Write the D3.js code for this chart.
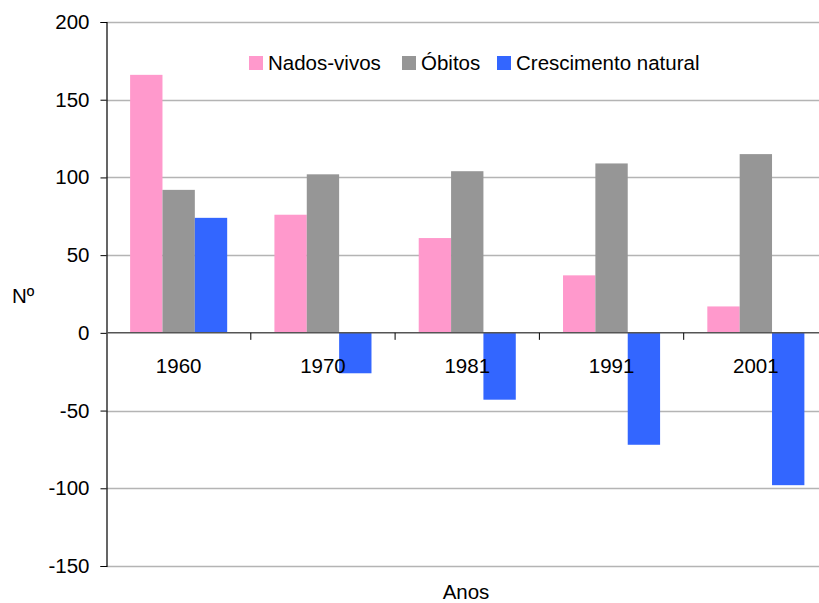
<!DOCTYPE html>
<html>
<head>
<meta charset="utf-8">
<script src="https://cdn.jsdelivr.net/npm/d3@7"></script>
<style>
  body { margin: 0; background: #fff; }
  svg { display: block; font-family: "Liberation Sans", Arial, sans-serif; }
</style>
</head>
<body>
<div id="chart"></div>
<script>
const years = ['1960', '1970', '1981', '1991', '2001'];
const nadosVivos = [166, 76, 61, 37, 17];
const obitos = [92, 102, 104, 109, 115];
const crescimento = [74, -26, -43, -72, -98];
const seriesNames = ['Nados-vivos', 'Óbitos', 'Crescimento natural'];
const seriesColors = ['#FF99CC', '#969696', '#3366FF'];
const yTicks = [-150, -100, -50, 0, 50, 100, 150, 200];

const width = 819;
const height = 603;
const margin = { top: 22, left: 106.5, bottom: 37, right: -9 };
const fontSize = 20.5;

const svg = d3.select('#chart').append('svg')
    .attr('width', width)
    .attr('height', height);

const x = d3.scaleBand()
    .domain(years)
    .range([margin.left, width - margin.right]);

const inner = d3.scaleBand()
    .domain(d3.range(3))
    .range([0, x.bandwidth()])
    .paddingOuter(0.73)
    .paddingInner(0);

const y = d3.scaleLinear()
    .domain([-150, 200])
    .range([height - margin.bottom, margin.top]);

// gridlines
svg.append('g')
  .selectAll('line')
  .data(yTicks.filter(d => d !== 0))
  .join('line')
    .attr('x1', margin.left)
    .attr('x2', width)
    .attr('y1', d => Math.round(y(d)) + 0.5)
    .attr('y2', d => Math.round(y(d)) + 0.5)
    .attr('stroke', '#b4b4b4')
    .attr('stroke-width', 1.5);

// bars
const allSeries = [nadosVivos, obitos, crescimento];
allSeries.forEach((vals, si) => {
  svg.append('g')
    .selectAll('rect')
    .data(vals)
    .join('rect')
      .attr('x', (d, i) => x(years[i]) + inner(si))
      .attr('width', inner.bandwidth())
      .attr('y', d => y(Math.max(0, d)))
      .attr('height', d => Math.abs(y(d) - y(0)))
      .attr('fill', seriesColors[si]);
});

// y axis
const yAxis = svg.append('g')
    .attr('transform', `translate(${margin.left},0)`)
    .call(d3.axisLeft(y).tickValues(yTicks).tickFormat(d => String(d)).tickSize(6).tickPadding(11));
yAxis.select('.domain').attr('stroke', '#000').attr('stroke-width', 1.2);
yAxis.selectAll('.tick line').attr('stroke', '#000');
yAxis.selectAll('.tick text')
    .attr('font-size', fontSize)
    .attr('font-family', '"Liberation Sans", Arial, sans-serif')
    .attr('fill', '#000');

// zero line with category ticks
svg.append('line')
    .attr('x1', margin.left)
    .attr('x2', width)
    .attr('y1', y(0))
    .attr('y2', y(0))
    .attr('stroke', '#555')
    .attr('stroke-width', 1.5);

svg.append('g')
  .selectAll('line')
  .data(years.slice(1))
  .join('line')
    .attr('x1', d => x(d))
    .attr('x2', d => x(d))
    .attr('y1', y(0))
    .attr('y2', y(0) + 7)
    .attr('stroke', '#000');

svg.append('g')
  .selectAll('text')
  .data(years)
  .join('text')
    .attr('x', d => x(d) + x.bandwidth() / 2)
    .attr('y', y(0) + 40)
    .attr('text-anchor', 'middle')
    .attr('font-size', fontSize)
    .text(d => d);

// axis titles
svg.append('text')
    .attr('x', 12)
    .attr('y', 303)
    .attr('font-size', fontSize)
    .text('Nº');

svg.append('text')
    .attr('x', 466)
    .attr('y', 599)
    .attr('text-anchor', 'middle')
    .attr('font-size', fontSize)
    .text('Anos');

// legend
const legendX = [249, 402, 497];
const legend = svg.append('g');
seriesNames.forEach((name, i) => {
  legend.append('rect')
      .attr('x', legendX[i])
      .attr('y', 56)
      .attr('width', 14)
      .attr('height', 14)
      .attr('fill', seriesColors[i]);
  legend.append('text')
      .attr('x', legendX[i] + 19)
      .attr('y', 70)
      .attr('font-size', fontSize)
      .text(name);
});
</script>
</body>
</html>
